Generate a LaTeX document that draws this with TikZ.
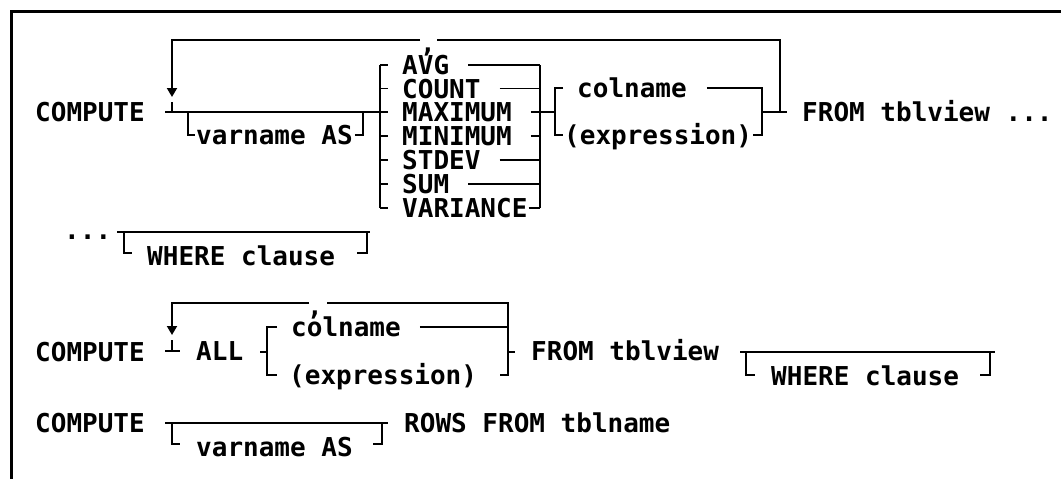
\documentclass[tikz,border=0pt]{standalone}
\usepackage{fontspec}
\setmonofont{DejaVu Sans Mono}
\usepackage{tikz}
\usetikzlibrary{arrows.meta,calc}

\tikzset{
  kw/.style={font=\ttfamily\bfseries\fontsize{26}{28}\selectfont, inner sep=0pt,
    text height=19pt, text depth=0pt, anchor=west},
  rail/.style={line width=1.8pt},
  loopend/.style={rail, -{Triangle[width=10pt,length=9pt]}},
}

\begin{document}
\begin{tikzpicture}[x=1pt,y=-1pt]
  \useasboundingbox (0,0) rectangle (1061,479);
  \draw[line width=3.5pt] (11.5,479) -- (11.5,11.5) -- (1061,11.5);

  % first form
  \node[kw] (cmpA) at (35,112) {COMPUTE};
  \node[kw] (vnA) at (196,135) {varname AS};
  \foreach \nm/\txt/\yy in {avg/AVG/65, count/COUNT/88.5, maxi/MAXIMUM/112,
      mini/MINIMUM/136, stdev/STDEV/160, sum/SUM/184, variance/VARIANCE/208}
    \node[kw] (\nm) at (402,\yy) {\txt};
  \node[kw] (colA) at (577,88) {colname};
  \node[kw] (exprA) at (564,135) {(expression)};
  \node[kw] (fromA) at (802,112) {FROM tblview ...};
  \node[kw] (sepA) at (420,43) {,};

  \coordinate (inA) at (165,112);
  \coordinate (loopLA) at (172,40);
  \coordinate (loopRA) at (780,40);
  \coordinate (optLA) at (188,112);
  \coordinate (optRA) at (363,112);
  \coordinate (fnL) at (380,112);
  \coordinate (fnR) at (540,112);
  \coordinate (argL) at (555,112);
  \coordinate (argR) at (762,112);
  \coordinate (outA) at (787,112);

  \draw[rail] (inA) -- (fnL);
  \draw[rail] ($(loopLA|-inA)+(0,-10)$) -- (loopLA|-inA);
  \draw[rail] (optLA) |- ([xshift=-1pt]vnA.west);
  \draw[rail] ([xshift=2pt]vnA.east) -| (optRA);
  \draw[rail] (fnL|-avg) -- (fnL|-variance);
  \draw[rail] (fnR|-avg) -- (fnR|-variance);
  \foreach \nm in {avg,count,maxi,mini,stdev,sum,variance}
    \draw[rail] (fnL|-\nm) -- ++(8,0);
  \foreach \nm in {avg,count,maxi,mini,stdev,sum}
    \draw[rail] ([xshift=19pt]\nm.east) -- (fnR|-\nm);
  \draw[rail] ([xshift=1pt]variance.east) -- (fnR|-variance);
  \draw[rail] (fnR) -- (argL);
  \draw[rail] ($(argL|-colA)+(8,0)$) -- (argL|-colA) -- (argL|-exprA) -- ++(8,0);
  \draw[rail] ([xshift=20pt]colA.east) -- (argR|-colA) -- (argR|-exprA) -- ([xshift=1pt]exprA.east);
  \draw[rail] (argR) -- (outA);
  \draw[rail] (loopRA|-outA) -- (loopRA) -- ([xshift=9pt]sepA.north|-loopRA);
  \draw[loopend] ([xshift=-8pt]sepA.north|-loopLA) -- (loopLA) -- ++(0,57);

  % continuation
  \node[kw] (dots) at (64,230) {...};
  \node[kw] (whereA) at (147,255.5) {WHERE clause};
  \coordinate (wLA) at (124,232);
  \coordinate (wRA) at (367,232);
  \draw[rail] ([xshift=-7pt]wLA) -- ([xshift=3pt]wRA);
  \draw[rail] (wLA) -- ++(0,21) -- ++(8,0);
  \draw[rail] (wRA) -- ++(0,21) -- ++(-10,0);

  % second form
  \node[kw] (cmpB) at (35,351.5) {COMPUTE};
  \node[kw] (allB) at (196,351) {ALL};
  \node[kw] (colB) at (291,327) {colname};
  \node[kw] (exprB) at (289,375) {(expression)};
  \node[kw] (fromB) at (531,351) {FROM tblview};
  \node[kw] (whereB) at (771,375.5) {WHERE clause};
  \node[kw] (sepB) at (307,306) {,};

  \coordinate (inB) at (172,351);
  \coordinate (loopLB) at (172,303);
  \coordinate (loopRB) at (508,303);
  \coordinate (argLB) at (267,352);
  \coordinate (wLB) at (746,352);
  \coordinate (wRB) at (990,352);

  \draw[rail] ([xshift=-7pt]inB) -- ([xshift=8pt]inB);
  \draw[rail] (inB) -- ++(0,-11);
  \draw[loopend] ([xshift=-6pt]sepB.north|-loopLB) -- (loopLB) -- ++(0,32);
  \draw[rail] ([xshift=12pt]sepB.north|-loopRB) -- (loopRB) -- (loopRB|-exprB) -- ++(-8,0);
  \draw[rail] ([xshift=19pt]colB.east) -- (loopRB|-colB);
  \draw[rail] (loopRB|-argLB) -- ++(7,0);
  \draw[rail] ([xshift=-7pt]argLB) -- (argLB);
  \draw[rail] ($(argLB|-colB)+(10,0)$) -- (argLB|-colB) -- (argLB|-exprB) -- ++(10,0);
  \draw[rail] ([xshift=-6pt]wLB) -- ([xshift=5pt]wRB);
  \draw[rail] (wLB) -- ++(0,23) -- ++(9,0);
  \draw[rail] (wRB) -- ++(0,23) -- ++(-10,0);

  % third form
  \node[kw] (cmpC) at (35,423) {COMPUTE};
  \node[kw] (vnC) at (196,447) {varname AS};
  \node[kw] (rowsC) at (404,423) {ROWS FROM tblname};
  \coordinate (optLC) at (172,423);
  \coordinate (optRC) at (382,423);
  \draw[rail] ([xshift=-7pt]optLC) -- ([xshift=6pt]optRC);
  \draw[rail] (optLC) -- ++(0,21) -- ++(8,0);
  \draw[rail] (optRC) -- ++(0,21) -- ++(-9,0);
\end{tikzpicture}
\end{document}
